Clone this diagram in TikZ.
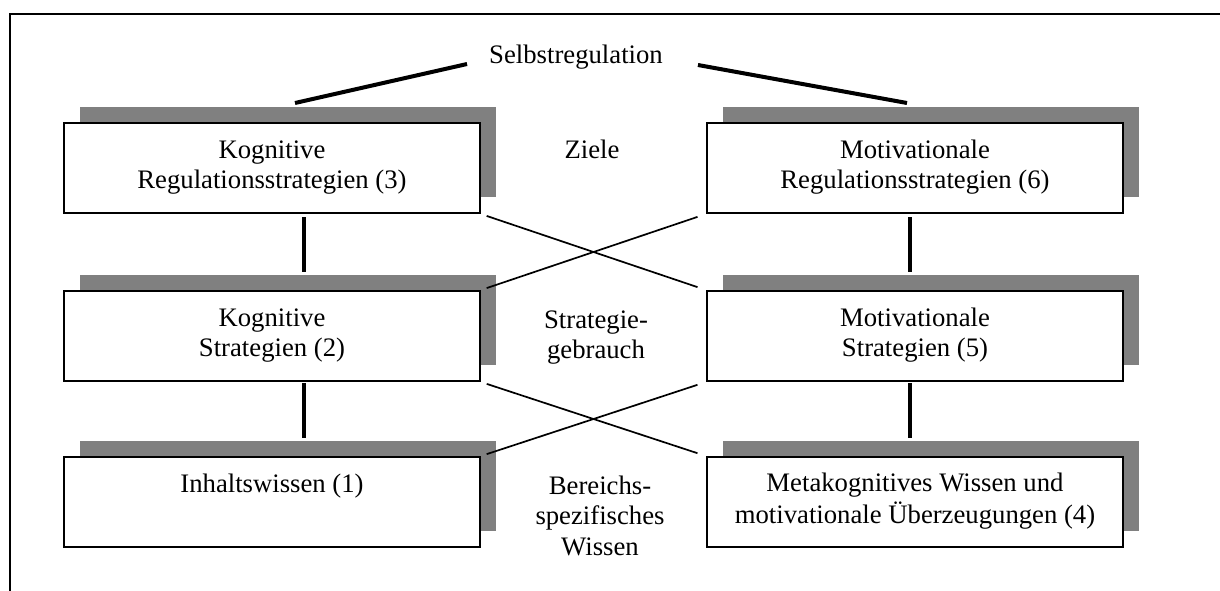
\documentclass[tikz,border=0pt]{standalone}
\usepackage{fontspec}
\setmainfont{Liberation Serif}
\usetikzlibrary{calc,shadows}
\newcommand\lstrut{\rule[-10pt]{0pt}{30.7pt}}
\begin{document}
\begin{tikzpicture}[x=1pt,y=-1pt,
  txt/.style={font=\fontsize{26.7}{30.7}\selectfont, inner sep=0pt, align=center},
  box/.style={txt, draw=black, line width=2pt, fill=white,
    minimum width=416pt, minimum height=90pt,
    drop shadow={shadow xshift=16pt, shadow yshift=16pt, fill=black!50, opacity=1}},
  thickline/.style={line width=4pt},
  thinline/.style={line width=1.7pt},
  frameline/.style={line width=2pt}]
\useasboundingbox (0,0) rectangle (1220,590);
\draw[frameline] (1230,14) -- (10,14) -- (10,600);
% boxes
\node[box] (k3) at (272,168) {\lstrut Kognitive\\\lstrut Regulationsstrategien (3)};
\node[box] (m6) at (915,168) {\lstrut Motivationale\\\lstrut Regulationsstrategien (6)};
\node[box] (k2) at (272,336) {\lstrut Kognitive\\\lstrut Strategien (2)};
\node[box] (m5) at (915,336) {\lstrut Motivationale\\\lstrut Strategien (5)};
\node[box] (k1) at (272,502) {\lstrut Inhaltswissen (1)\\\lstrut};
\node[box] (m4) at (915,502) {\lstrut Metakognitives Wissen und\\\lstrut motivationale Überzeugungen (4)};
% middle labels
\node[txt, anchor=base] (sr) at (576,63) {Selbstregulation};
\node[txt, anchor=base] (ziele) at (592,158) {Ziele};
\node[txt, anchor=north] (sg) at (596,307.3) {\lstrut Strategie-\\\lstrut gebrauch};
\node[txt, anchor=north] (bw) at (600,473.3) {\lstrut Bereichs-\\\lstrut spezifisches\\\lstrut Wissen};
% Selbstregulation connectors
\coordinate (srl) at ($(sr.base west)+(-22,1)$);
\coordinate (srr) at ($(sr.base east)+(35,2)$);
\coordinate (k3t) at ($(k3.north)+(23,-19)$);
\coordinate (m6t) at ($(m6.north)+(-8,-19)$);
\draw[thickline] (srl) -- (k3t);
\draw[thickline] (srr) -- (m6t);
% vertical connectors
\draw[thickline] ($(k3.south)+(32,3)$) -- ($(k2.north)+(32,-18)$);
\draw[thickline] ($(k2.south)+(32,1)$) -- ($(k1.north)+(32,-18)$);
\draw[thickline] ($(m6.south)+(-5,3)$) -- ($(m5.north)+(-5,-18)$);
\draw[thickline] ($(m5.south)+(-5,1)$) -- ($(m4.north)+(-5,-18)$);
% crossing connectors
\draw[thinline, shorten <=6pt, shorten >=9pt] (k3.south east) -- (m5.north west);
\draw[thinline, shorten <=6pt, shorten >=9pt] (k2.north east) -- (m6.south west);
\draw[thinline, shorten <=6pt, shorten >=9pt] (k2.south east) -- (m4.north west);
\draw[thinline, shorten <=6pt, shorten >=9pt] (k1.north east) -- (m5.south west);
\end{tikzpicture}
\end{document}
